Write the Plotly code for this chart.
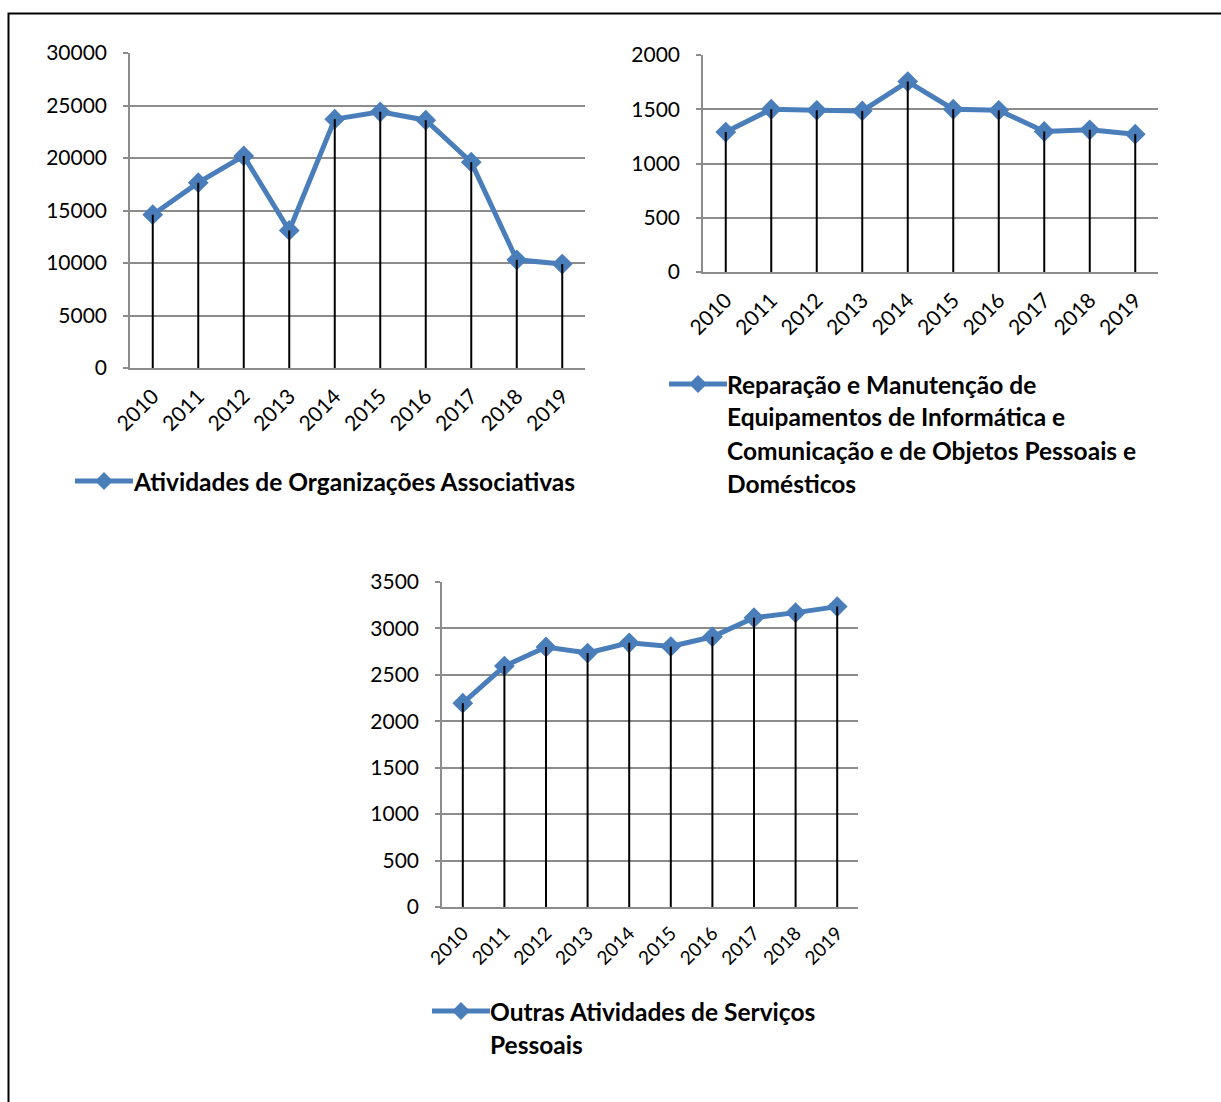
import plotly.graph_objects as go

W, H = 1221, 1102

years = ["2010", "2011", "2012", "2013", "2014", "2015", "2016", "2017", "2018", "2019"]
org_assoc = [14600, 17650, 20200, 13100, 23700, 24400, 23600, 19600, 10300, 9900]
reparacao = [1290, 1500, 1490, 1485, 1755, 1500, 1490, 1295, 1310, 1270]
outras = [2195, 2595, 2800, 2735, 2845, 2805, 2910, 3115, 3170, 3235]

name1 = ["Atividades de Organizações Associativas"]
name2 = ["Reparação e Manutenção de", "Equipamentos de Informática e",
         "Comunicação e de Objetos Pessoais e", "Domésticos"]
name3 = ["Outras Atividades de Serviços", "Pessoais"]

BLUE = "#4A7EBB"
GRID = "#8C8C8C"
FONT = "Lato"


def px(x):
    return x / W


def py(y):
    return 1 - y / H


fig = go.Figure()

panels = [
    dict(vals=org_assoc, xa="x", ya="y", xd=(130, 585), yd=(53, 368), rng=30000, dt=5000, xfs=21, name=" ".join(name1)),
    dict(vals=reparacao, xa="x2", ya="y2", xd=(703, 1158), yd=(55, 272), rng=2000, dt=500, xfs=21, name=" ".join(name2)),
    dict(vals=outras, xa="x3", ya="y3", xd=(442, 858), yd=(582, 907), rng=3500, dt=500, xfs=19, name=" ".join(name3)),
]

for i, p in enumerate(panels):
    fig.add_trace(go.Scatter(
        x=years, y=p["vals"], mode="lines+markers", name=p["name"],
        line=dict(color=BLUE, width=5),
        marker=dict(symbol="diamond", size=16, color=BLUE),
        xaxis=p["xa"], yaxis=p["ya"], showlegend=False,
    ))
    dx, dy = [], []
    for yr, v in zip(years, p["vals"]):
        dx += [yr, yr, None]
        dy += [0, v, None]
    fig.add_trace(go.Scatter(
        x=dx, y=dy, mode="lines", line=dict(color="black", width=2),
        xaxis=p["xa"], yaxis=p["ya"], showlegend=False, hoverinfo="skip",
    ))
    suffix = "" if i == 0 else str(i + 1)
    fig.update_layout(**{
        "xaxis" + suffix: dict(
            domain=[px(p["xd"][0]), px(p["xd"][1])], anchor="y" + suffix,
            type="category", range=[-0.5, 9.5], showgrid=False, automargin=False,
            showline=True, linecolor=GRID, linewidth=1.5,
            ticks="", tickangle=-45, ticklabelstandoff=6,
            tickfont=dict(family=FONT, size=p["xfs"], color="black"),
        ),
        "yaxis" + suffix: dict(
            domain=[py(p["yd"][1]), py(p["yd"][0])], anchor="x" + suffix,
            range=[0, p["rng"]], dtick=p["dt"], tickformat="d", automargin=False,
            showgrid=True, gridcolor=GRID,
            gridwidth=1.5, zeroline=False, showline=True, linecolor=GRID,
            linewidth=1.5, ticks="outside", ticklen=5, tickcolor=GRID,
            tickwidth=1.5, ticklabelstandoff=12,
            tickfont=dict(family=FONT, size=21, color="black"),
        ),
    })

shapes = []
annotations = []


def legend(x0, x1, y, lines):
    shapes.append(dict(type="line", xref="paper", yref="paper",
                       x0=px(x0), x1=px(x1), y0=py(y), y1=py(y),
                       line=dict(color=BLUE, width=5)))
    cx = (x0 + x1) / 2
    r = 9
    path = "M {} {} L {} {} L {} {} L {} {} Z".format(
        px(cx - r), py(y), px(cx), py(y - r), px(cx + r), py(y), px(cx), py(y + r))
    shapes.append(dict(type="path", xref="paper", yref="paper", path=path,
                       fillcolor=BLUE, line=dict(color=BLUE, width=0)))
    for k, t in enumerate(lines):
        annotations.append(dict(
            text="<b>" + t + "</b>", xref="paper", yref="paper",
            x=px(x1 - 2), y=py(y + 33 * k), xanchor="left", yanchor="middle",
            showarrow=False, font=dict(family=FONT, size=24.5, color="black"),
        ))


legend(75, 133, 481, name1)
legend(669, 727, 384, name2)
legend(432, 490, 1011, name3)

# outer frame
shapes.append(dict(type="rect", xref="paper", yref="paper",
                   x0=px(8.5), x1=px(1230), y0=py(1110), y1=py(13.5),
                   line=dict(color="black", width=2)))

fig.update_layout(
    width=W, height=H, margin=dict(l=0, r=0, t=0, b=0, autoexpand=False),
    paper_bgcolor="white", plot_bgcolor="white",
    shapes=shapes, annotations=annotations, showlegend=False,
    font=dict(family=FONT, color="black"),
)

fig.write_html(
    "out.html",
    config={"displayModeBar": False},
    post_script="document.body.style.margin='0';document.body.style.overflow='hidden';",
)
